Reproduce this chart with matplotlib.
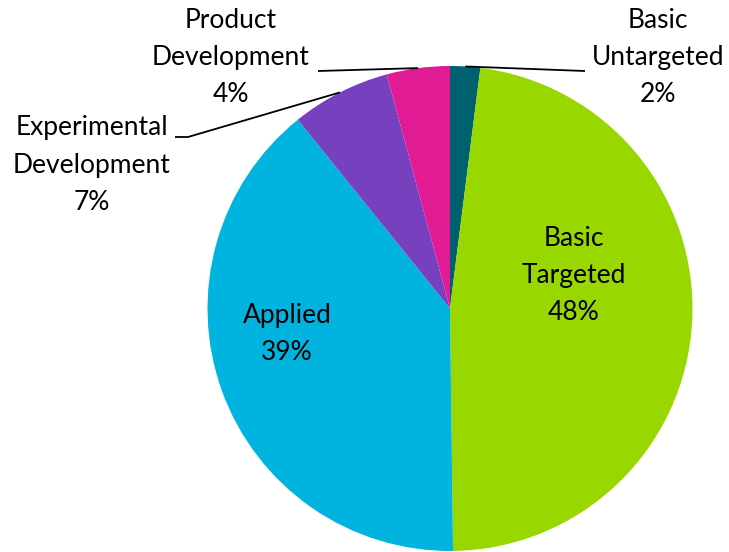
import numpy as np
import matplotlib
matplotlib.use("Agg")
import matplotlib.pyplot as plt

# Slice data (clockwise from 12 o'clock)
categories = ["Basic\nUntargeted", "Basic\nTargeted", "Applied",
              "Experimental\nDevelopment", "Product\nDevelopment"]
shares = [2.0, 47.8, 39.4, 6.6, 4.2]
colors = ["#00616E", "#99D700", "#00B4E0", "#7740BE", "#E01B94"]

plt.rcParams['font.family'] = ['Lato', 'DejaVu Sans']

W, H = 729, 552
fig = plt.figure(figsize=(W / 100, H / 100), dpi=100)
ax = fig.add_axes([0, 0, 1, 1])

cx, cy, r = 450, H - 308.5, 242.5
wedges, _ = ax.pie(shares, colors=colors, startangle=90, counterclock=False,
                   center=(cx, cy), radius=r,
                   wedgeprops=dict(linewidth=0))
ax.set_xlim(0, W)
ax.set_ylim(0, H)
ax.set_aspect('equal')
ax.axis('off')

labels = [f"{c}\n{round(s):.0f}%" for c, s in zip(categories, shares)]

# anchor on the rim at the middle of each slice
total = sum(shares)
cum = np.cumsum([0] + shares)
mid = [(cum[i] + shares[i] / 2) / total for i in range(len(shares))]
def rim(i):
    a = 2 * np.pi * mid[i]
    return cx + r * np.sin(a), cy + r * np.cos(a)

fs = 19
ls = 1.6
# outside labels with leader lines: (text pos, elbow points)
outside = {
    0: ((658, H - 58), [(585, H - 71)]),
    4: ((231, H - 57), [(318, H - 71)]),
    3: ((92, H - 165), [(188, H - 137), (175, H - 137)]),
}
for i, (tpos, pts) in outside.items():
    x0, y0 = rim(i)
    xs = [x0] + [p[0] for p in pts]
    ys = [y0] + [p[1] for p in pts]
    ax.plot(xs, ys, color='black', lw=1.3, solid_capstyle='butt')
    ax.text(tpos[0], tpos[1], labels[i], ha='center', va='center',
            fontsize=fs, linespacing=ls, color='black')

# inside labels
ax.text(574, H - 275, labels[1], ha='center', va='center', fontsize=fs,
        linespacing=ls, color='black')
ax.text(287, H - 334, labels[2], ha='center', va='center', fontsize=fs,
        linespacing=ls, color='black')

fig.savefig("out.png", dpi=100, facecolor='white')
plt.close(fig)
